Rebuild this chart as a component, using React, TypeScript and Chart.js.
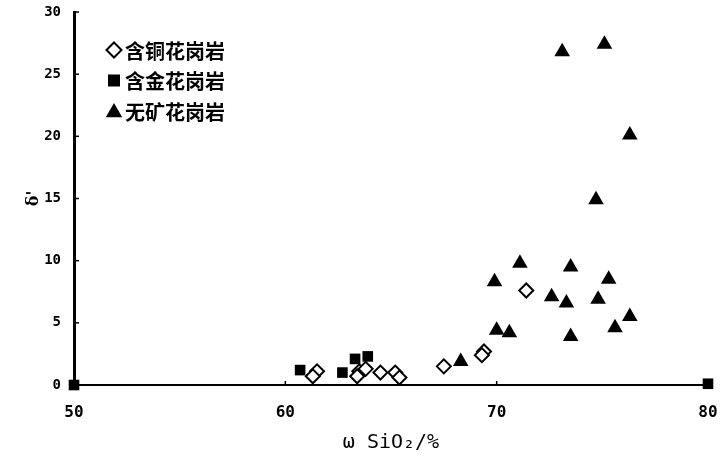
import { useEffect, useRef } from "react";
import { Chart, registerables } from "chart.js";

Chart.register(...registerables);

// 含铜花岗岩 (copper-bearing granite)
const copperX = [61.5, 61.3, 63.5, 63.4, 63.8, 64.5, 65.2, 65.4, 67.5, 69.4, 69.3, 71.4];
const copperY = [1.1, 0.7, 1.1, 0.7, 1.3, 1.0, 1.0, 0.6, 1.5, 2.7, 2.4, 7.6];

// 含金花岗岩 (gold-bearing granite)
const goldX = [60.7, 62.7, 63.3, 63.9, 50, 80];
const goldY = [1.2, 1.0, 2.1, 2.3, 0, 0.1];

// 无矿花岗岩 (barren granite)
const barrenX = [73.1, 75.1, 76.3, 74.7, 71.1, 73.5, 69.9, 72.6, 73.3, 74.8, 75.3, 76.3, 75.6, 70.0, 70.6, 73.5, 68.3];
const barrenY = [26.8, 27.4, 20.1, 14.9, 9.8, 9.5, 8.3, 7.1, 6.6, 6.9, 8.5, 5.5, 4.6, 4.4, 4.2, 3.9, 1.9];

const seriesLabels = ["含铜花岗岩", "含金花岗岩", "无矿花岗岩"];
const xTickValues = [50, 60, 70, 80];
const yTickValues = [0, 5, 10, 15, 20, 25, 30];
const xTitle = "ω SiO₂/%";
const yTitle = "δ'";

const toPoints = (xs: number[], ys: number[]) => xs.map((x, i) => ({ x, y: ys[i] }));

function drawMarker(ctx: CanvasRenderingContext2D, style: string, x: number, y: number) {
  ctx.save();
  ctx.beginPath();
  if (style === "rectRot") {
    const r = 7.5;
    ctx.moveTo(x, y - r);
    ctx.lineTo(x + r, y);
    ctx.lineTo(x, y + r);
    ctx.lineTo(x - r, y);
    ctx.closePath();
    ctx.fillStyle = "#fff";
    ctx.fill();
    ctx.lineWidth = 2;
    ctx.strokeStyle = "#000";
    ctx.stroke();
  } else if (style === "rect") {
    ctx.rect(x - 6, y - 6, 12, 12);
    ctx.fillStyle = "#000";
    ctx.fill();
  } else {
    const r = 9.5;
    ctx.moveTo(x, y - r * 0.85);
    ctx.lineTo(x + r * 0.866, y + r * 0.65);
    ctx.lineTo(x - r * 0.866, y + r * 0.65);
    ctx.closePath();
    ctx.fillStyle = "#000";
    ctx.fill();
  }
  ctx.restore();
}

const insideLegend = {
  id: "insideLegend",
  afterDraw(chart: any) {
    const ctx: CanvasRenderingContext2D = chart.ctx;
    const area = chart.chartArea;
    chart.data.datasets.forEach((ds: any, i: number) => {
      const cy = area.top + 38 + i * 30.5;
      drawMarker(ctx, ds.pointStyle, area.left + 40, cy);
      ctx.save();
      ctx.fillStyle = "#000";
      ctx.font = 'bold 20px "Noto Sans CJK SC"';
      ctx.textBaseline = "middle";
      ctx.textAlign = "left";
      ctx.fillText(ds.label, area.left + 51, cy + 1);
      ctx.restore();
    });
  },
};

const inwardTicks = {
  id: "inwardTicks",
  afterDraw(chart: any) {
    const ctx: CanvasRenderingContext2D = chart.ctx;
    const area = chart.chartArea;
    const xs = chart.scales.x;
    const ys = chart.scales.y;
    ctx.save();
    ctx.strokeStyle = "#000";
    ctx.lineWidth = 1.5;
    ys.ticks.forEach((t: any) => {
      if (t.value === 0) return;
      const p = ys.getPixelForValue(t.value);
      ctx.beginPath();
      ctx.moveTo(area.left, p);
      ctx.lineTo(area.left + 5, p);
      ctx.stroke();
    });
    xs.ticks.forEach((t: any) => {
      if (t.value === 50 || t.value === 80) return;
      const p = xs.getPixelForValue(t.value);
      ctx.beginPath();
      ctx.moveTo(p, area.bottom);
      ctx.lineTo(p, area.bottom - 4);
      ctx.stroke();
    });
    ctx.restore();
  },
};

export default function App() {
  const ref = useRef<HTMLCanvasElement | null>(null);

  useEffect(() => {
    document.body.style.margin = "0";
    const canvas = ref.current;
    if (!canvas) return;
    const yTickFont = { family: '"DejaVu Sans Mono"', size: 14, weight: "bold" as const };
    const xTickFont = { family: '"DejaVu Sans Mono"', size: 16, weight: "bold" as const };
    const chart = new Chart(canvas, {
      type: "scatter",
      data: {
        datasets: [
          {
            label: seriesLabels[0],
            data: toPoints(copperX, copperY),
            pointStyle: "rectRot",
            pointRadius: 7,
            backgroundColor: "#fff",
            borderColor: "#000",
            borderWidth: 2,
            clip: false,
          },
          {
            label: seriesLabels[1],
            data: toPoints(goldX, goldY),
            pointStyle: "rect",
            pointRadius: 7.5,
            backgroundColor: "#000",
            borderColor: "#000",
            borderWidth: 0,
            clip: false,
          },
          {
            label: seriesLabels[2],
            data: toPoints(barrenX, barrenY),
            pointStyle: "triangle",
            pointRadius: 9,
            backgroundColor: "#000",
            borderColor: "#000",
            borderWidth: 0,
            clip: false,
          },
        ] as any,
      },
      options: {
        animation: false,
        responsive: false,
        maintainAspectRatio: false,
        devicePixelRatio: 1,
        layout: { padding: { top: 12, right: 12, left: 0, bottom: 0 } },
        plugins: { legend: { display: false }, tooltip: { enabled: false } },
        scales: {
          x: {
            type: "linear",
            min: 50,
            max: 80,
            afterBuildTicks: (s: any) => {
              s.ticks = xTickValues.map((v) => ({ value: v }));
            },
            afterFit: (s: any) => {
              s.height = 76;
              s.paddingLeft = 0;
              s.paddingRight = 0;
            },
            grid: { display: false, drawTicks: false },
            border: { display: true, color: "#000", width: 2 },
            ticks: { font: xTickFont, color: "#000", padding: 18, maxRotation: 0 },
            title: {
              display: true,
              text: xTitle,
              color: "#000",
              font: { family: '"DejaVu Sans Mono"', size: 20 },
              padding: { top: 0, bottom: 6 },
            },
          },
          y: {
            type: "linear",
            min: 0,
            max: 30,
            afterBuildTicks: (s: any) => {
              s.ticks = yTickValues.map((v) => ({ value: v }));
            },
            afterFit: (s: any) => {
              s.width = 74;
              s.paddingTop = 0;
              s.paddingBottom = 0;
            },
            grid: { display: false, drawTicks: false },
            border: { display: true, color: "#000", width: 3 },
            ticks: { font: yTickFont, color: "#000", padding: 13 },
            title: {
              display: true,
              text: yTitle,
              color: "#000",
              font: { family: '"DejaVu Serif"', size: 16, weight: "bold" },
              padding: { top: 24, bottom: 0 },
            },
          },
        },
      } as any,
      plugins: [insideLegend, inwardTicks],
    });
    return () => chart.destroy();
  }, []);

  return <canvas ref={ref} width={720} height={461} style={{ display: "block" }} />;
}
